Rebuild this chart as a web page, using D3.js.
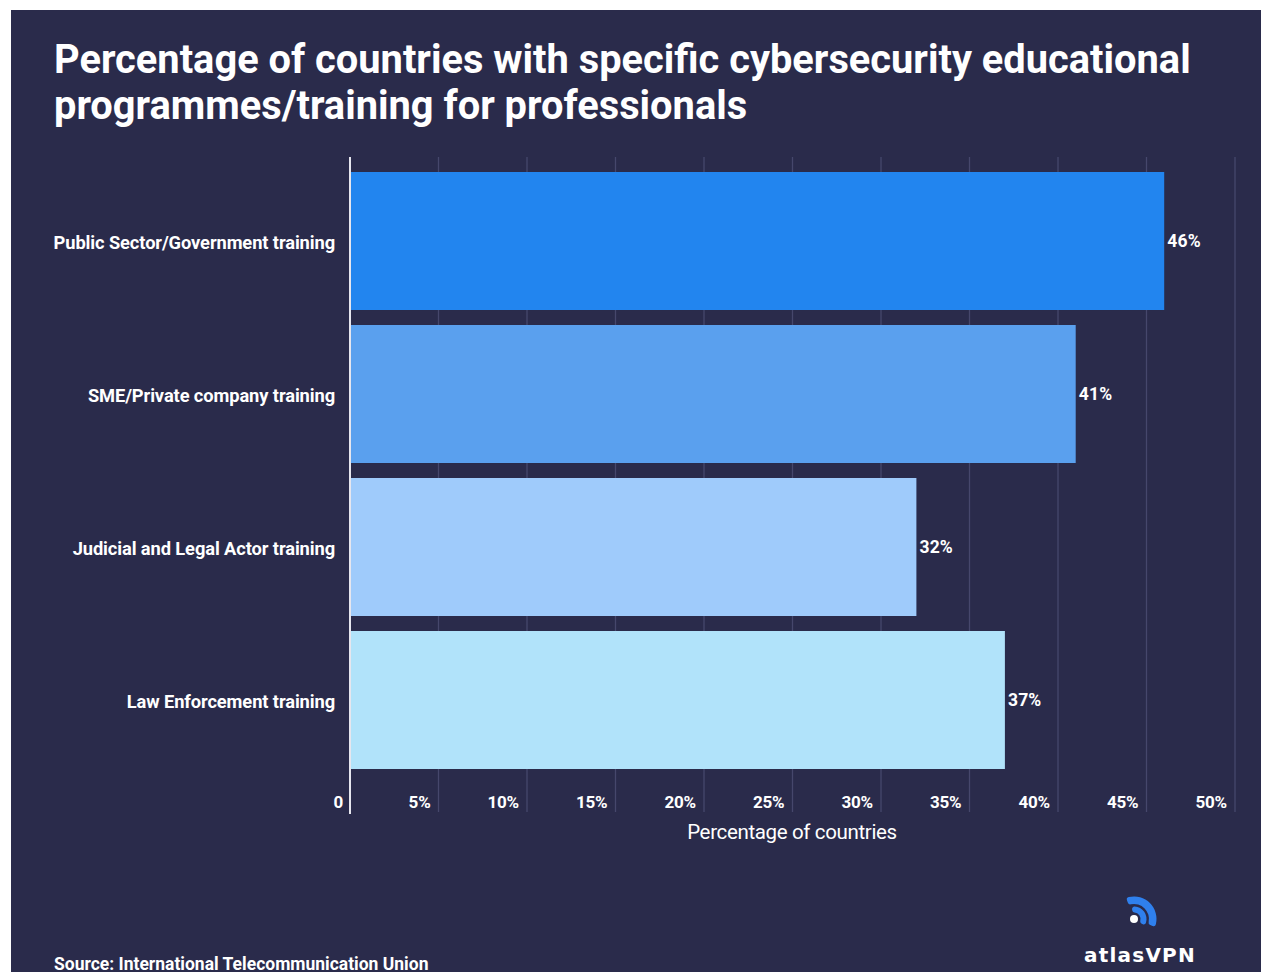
<!DOCTYPE html>
<html><head><meta charset="utf-8">
<script src="https://cdn.jsdelivr.net/npm/d3@7"></script>
<style>html,body{margin:0;padding:0;background:#fff;}svg{display:block;}</style>
</head><body>
<svg id="c" width="1264" height="972"></svg>
<script>
const categories = ["Public Sector/Government training","SME/Private company training","Judicial and Legal Actor training","Law Enforcement training"];
const values = [46, 41, 32, 37];
const barColors = ["#2285ef","#5aa0ee","#9fcbfb","#b1e3fa"];
const tickValues = [0,5,10,15,20,25,30,35,40,45,50];
const titleLines = ["Percentage of countries with specific cybersecurity educational","programmes/training for professionals"];

const svg = d3.select("#c");
const font = "Roboto, 'Noto Sans', sans-serif";
svg.append("rect").attr("x",11).attr("y",10).attr("width",1250).attr("height",962).attr("fill","#2a2b4b");

svg.append("g").selectAll("text").data(titleLines).join("text")
  .attr("x",54).attr("y",(d,i)=>73+i*46)
  .attr("fill","#ffffff").attr("font-family",font).attr("font-weight","bold")
  .attr("font-size",39.8).text(d=>d);

const x = d3.scaleLinear().domain([0,50]).range([350,1235]);
const y = d3.scaleBand().domain(categories).range([164.5,776.5]).paddingInner(0.098).paddingOuter(0.049);

// gridlines
svg.append("g").selectAll("line").data(tickValues.filter(d=>d>0)).join("line")
  .attr("x1",d=>x(d)).attr("x2",d=>x(d)).attr("y1",157).attr("y2",812)
  .attr("stroke","#46476c").attr("stroke-width",1.3);

// bars
svg.append("g").selectAll("rect").data(values).join("rect")
  .attr("x",x(0)).attr("y",(d,i)=>y(categories[i]))
  .attr("width",d=>x(d)-x(0)).attr("height",y.bandwidth())
  .attr("fill",(d,i)=>barColors[i]);

// axis line
svg.append("line").attr("x1",350).attr("x2",350).attr("y1",157).attr("y2",814)
  .attr("stroke","#e6e6ee").attr("stroke-width",2);

// value labels
svg.append("g").selectAll("text").data(values).join("text")
  .attr("x",d=>x(d)+3).attr("y",(d,i)=>y(categories[i])+y.bandwidth()/2+6)
  .attr("fill","#ffffff").attr("font-family",font).attr("font-weight","bold")
  .attr("font-size",17.5).attr("letter-spacing",0.2).text(d=>d+"%");

// category labels
svg.append("g").selectAll("text").data(categories).join("text")
  .attr("x",335).attr("y",d=>y(d)+y.bandwidth()/2+7.5)
  .attr("text-anchor","end")
  .attr("fill","#ffffff").attr("font-family",font).attr("font-weight","bold")
  .attr("font-size",18.3).attr("letter-spacing",-0.1).text(d=>d);

// tick labels
svg.append("g").selectAll("text").data(tickValues).join("text")
  .attr("x",d=>d===0?x(d)-7:x(d)-8).attr("y",807.5)
  .attr("text-anchor","end")
  .attr("fill","#ffffff").attr("font-family",font).attr("font-weight","bold")
  .attr("font-size",17).attr("letter-spacing",-0.2).text(d=>d===0?"0":d+"%");

// axis title
svg.append("text").attr("x",792).attr("y",839).attr("text-anchor","middle")
  .attr("fill","#ffffff").attr("font-family",font).attr("font-size",20.5).attr("letter-spacing",-0.35)
  .text("Percentage of countries");

// source
svg.append("text").attr("x",54).attr("y",969.5)
  .attr("fill","#ffffff").attr("font-family",font).attr("font-weight","bold")
  .attr("font-size",17.5).text("Source: International Telecommunication Union");

// logo
const lg = svg.append("g").attr("transform","translate(1134,919)");
const arcGen = d3.arc().cornerRadius(2.5);
lg.append("path").attr("d",arcGen({innerRadius:15,outerRadius:22.5,startAngle:-0.36,endAngle:Math.PI/2+0.36})).attr("fill","#2f80ed");
lg.append("path").attr("d",arcGen({innerRadius:6.5,outerRadius:12.5,startAngle:-0.2,endAngle:Math.PI/2+0.55})).attr("fill","#2f80ed");
lg.append("circle").attr("cx",0).attr("cy",0).attr("r",4).attr("fill","#ffffff");
svg.append("text").attr("x",1140).attr("y",962).attr("text-anchor","middle")
  .attr("fill","#ffffff").attr("font-family","'DejaVu Sans', sans-serif").attr("font-weight","bold")
  .attr("font-size",20).attr("letter-spacing",1.2).text("atlasVPN");
</script>
</body></html>
